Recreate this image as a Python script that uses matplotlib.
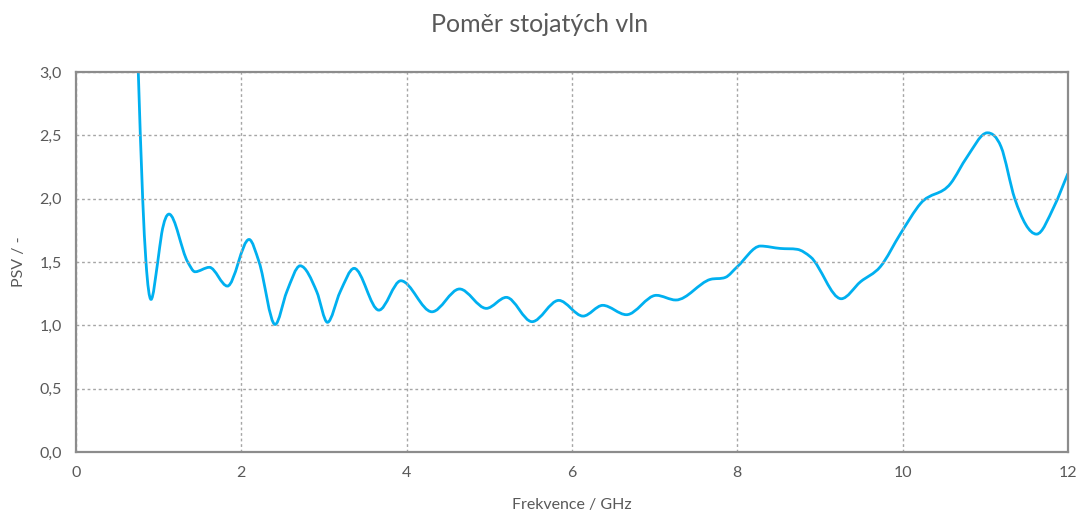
import numpy as np
import matplotlib.pyplot as plt
from matplotlib.path import Path
from matplotlib.patches import PathPatch

plt.rcParams['font.family'] = ['Lato', 'DejaVu Sans']

freq = [0.748, 0.807, 0.847, 0.908, 0.989, 1.037, 1.126, 1.352, 1.44, 1.614,
        1.832, 2.094, 2.215, 2.409, 2.55, 2.712, 2.913, 3.042, 3.196, 3.365,
        3.664, 3.93, 4.306, 4.64, 4.964, 5.206, 5.517, 5.84, 6.134, 6.372,
        6.659, 7.02, 7.256, 7.675, 7.857, 8.0, 8.28, 8.52, 8.725, 8.886,
        9.257, 9.49, 9.73, 9.976, 10.218, 10.58, 10.78, 11.025, 11.19, 11.356,
        11.62, 11.83, 12.0]
psv = [3.12, 2.0, 1.5, 1.205, 1.5, 1.726, 1.878, 1.5, 1.423, 1.458,
       1.31, 1.678, 1.5, 1.007, 1.265, 1.47, 1.265, 1.024, 1.265, 1.45,
       1.12, 1.352, 1.107, 1.287, 1.134, 1.221, 1.029, 1.197, 1.073, 1.158,
       1.084, 1.237, 1.2, 1.363, 1.379, 1.463, 1.626, 1.607, 1.6, 1.54,
       1.21, 1.344, 1.463, 1.726, 1.963, 2.12, 2.33, 2.52, 2.41, 2.0,
       1.72, 1.936, 2.2]

x_ticks = [0, 2, 4, 6, 8, 10, 12]
y_ticks = [0.0, 0.5, 1.0, 1.5, 2.0, 2.5, 3.0]


def smooth_path(xs, ys):
    # Bezier path through the points, three-point tangents, flat at extrema
    x = np.asarray(xs, float)
    y = np.asarray(ys, float)
    h = np.diff(x)
    d = np.diff(y) / h
    m = np.zeros_like(x)
    m[0], m[-1] = d[0], d[-1]
    for i in range(1, len(x) - 1):
        if d[i - 1] * d[i] > 0:
            s = (h[i] * d[i - 1] + h[i - 1] * d[i]) / (h[i - 1] + h[i])
            lim = 3 * min(abs(d[i - 1]), abs(d[i]))
            m[i] = np.sign(s) * min(abs(s), lim)
    verts = [(x[0], y[0])]
    codes = [Path.MOVETO]
    for i in range(len(x) - 1):
        t = h[i] / 3
        verts += [(x[i] + t, y[i] + m[i] * t),
                  (x[i + 1] - t, y[i + 1] - m[i + 1] * t),
                  (x[i + 1], y[i + 1])]
        codes += [Path.CURVE4] * 3
    return Path(verts, codes)


fig = plt.figure(figsize=(10.79, 5.15), dpi=100)
ax = fig.add_axes([0.0704, 0.1223, 0.9194, 0.7379])

ax.add_patch(PathPatch(smooth_path(freq, psv), facecolor='none',
                       edgecolor='#00B0F0', linewidth=2.0, clip_on=True))

ax.set_xlim(0, 12)
ax.set_ylim(0, 3)
ax.set_xticks(x_ticks)
ax.set_yticks(y_ticks)
ax.set_xticklabels([str(t) for t in x_ticks])
ax.set_yticklabels([f"{t:.1f}".replace('.', ',') for t in y_ticks])
ax.tick_params(length=0, labelsize=11.5, labelcolor='#595959', pad=10)
ax.grid(True, color='#A6A6A6', linestyle=(0, (2, 2)), linewidth=1.0)
for s in ax.spines.values():
    s.set_color('#8C8C8C')
    s.set_linewidth(1.6)

ax.set_xlabel('Frekvence / GHz', fontsize=11.5, color='#595959', labelpad=13)
ax.set_ylabel('PSV / -', fontsize=11.5, color='#595959', labelpad=10)
fig.text(0.5, 0.953, 'Poměr stojatých vln', ha='center', va='center',
         fontsize=18, color='#595959')

fig.savefig('out.png', dpi=100)
